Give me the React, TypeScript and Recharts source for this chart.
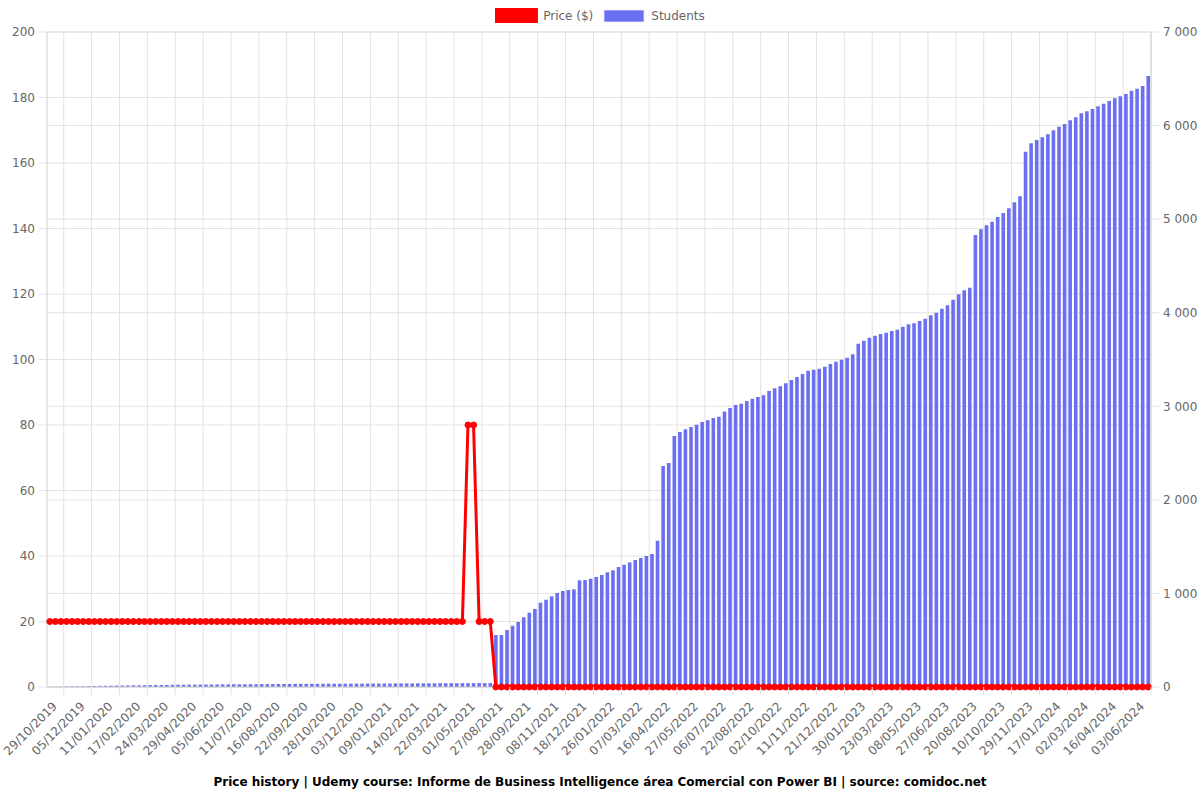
import React from 'react'
import {
    ComposedChart,
    Bar,
    Line,
    XAxis,
    YAxis,
    CartesianGrid,
} from 'recharts'

const tickLabels = [
    '29/10/2019', '05/12/2019', '11/01/2020', '17/02/2020', '24/03/2020',
    '29/04/2020', '05/06/2020', '11/07/2020', '16/08/2020', '22/09/2020',
    '28/10/2020', '03/12/2020', '09/01/2021', '14/02/2021', '22/03/2021',
    '01/05/2021', '27/08/2021', '28/09/2021', '08/11/2021', '18/12/2021',
    '26/01/2022', '07/03/2022', '16/04/2022', '27/05/2022', '06/07/2022',
    '22/08/2022', '02/10/2022', '11/11/2022', '21/12/2022', '30/01/2023',
    '23/03/2023', '08/05/2023', '27/06/2023', '20/08/2023', '10/10/2023',
    '29/11/2023', '17/01/2024', '02/03/2024', '16/04/2024', '03/06/2024',
]

// price in $, one value per snapshot
const prices = [
    20, 20, 20, 20, 20, 20, 20, 20, 20, 20,
    20, 20, 20, 20, 20, 20, 20, 20, 20, 20,
    20, 20, 20, 20, 20, 20, 20, 20, 20, 20,
    20, 20, 20, 20, 20, 20, 20, 20, 20, 20,
    20, 20, 20, 20, 20, 20, 20, 20, 20, 20,
    20, 20, 20, 20, 20, 20, 20, 20, 20, 20,
    20, 20, 20, 20, 20, 20, 20, 20, 20, 20,
    20, 20, 20, 20, 20, 80, 80, 20, 20, 20,
    0, 0, 0, 0, 0, 0, 0, 0, 0, 0,
    0, 0, 0, 0, 0, 0, 0, 0, 0, 0,
    0, 0, 0, 0, 0, 0, 0, 0, 0, 0,
    0, 0, 0, 0, 0, 0, 0, 0, 0, 0,
    0, 0, 0, 0, 0, 0, 0, 0, 0, 0,
    0, 0, 0, 0, 0, 0, 0, 0, 0, 0,
    0, 0, 0, 0, 0, 0, 0, 0, 0, 0,
    0, 0, 0, 0, 0, 0, 0, 0, 0, 0,
    0, 0, 0, 0, 0, 0, 0, 0, 0, 0,
    0, 0, 0, 0, 0, 0, 0, 0, 0, 0,
    0, 0, 0, 0, 0, 0, 0, 0, 0, 0,
    0, 0, 0, 0, 0, 0, 0, 0,
]

const students = [
    1, 2, 3, 5, 6, 7, 8, 10, 11, 12,
    13, 14, 15, 16, 17, 18, 18, 19, 20, 21,
    22, 22, 23, 24, 24, 25, 25, 26, 26, 27,
    27, 28, 28, 29, 29, 29, 30, 30, 31, 31,
    31, 32, 32, 32, 33, 33, 33, 34, 34, 34,
    35, 35, 35, 35, 36, 36, 36, 36, 37, 37,
    37, 37, 38, 38, 38, 38, 39, 39, 39, 39,
    40, 40, 40, 40, 41, 41, 41, 42, 42, 42,
    556, 556, 609, 655, 695, 745, 794, 834, 901, 933,
    969, 1005, 1026, 1037, 1044, 1140, 1143, 1157, 1176, 1197,
    1226, 1247, 1282, 1307, 1332, 1357, 1379, 1400, 1421, 1564,
    2362, 2394, 2682, 2725, 2754, 2779, 2803, 2832, 2852, 2875,
    2889, 2943, 2982, 3014, 3028, 3057, 3081, 3099, 3117, 3163,
    3192, 3213, 3245, 3281, 3313, 3345, 3380, 3391, 3402, 3423,
    3452, 3477, 3498, 3519, 3555, 3669, 3701, 3733, 3754, 3772,
    3786, 3805, 3819, 3851, 3876, 3887, 3911, 3936, 3972, 4000,
    4043, 4079, 4138, 4197, 4239, 4268, 4831, 4891, 4934, 4973,
    5023, 5066, 5116, 5180, 5244, 5721, 5811, 5846, 5875, 5907,
    5950, 5988, 6017, 6056, 6088, 6131, 6153, 6177, 6206, 6234,
    6263, 6291, 6313, 6337, 6373, 6394, 6423, 6530,
]

const priceTicks = [0, 20, 40, 60, 80, 100, 120, 140, 160, 180, 200]
const studentTicks = [0, 1000, 2000, 3000, 4000, 5000, 6000, 7000]

const data = students.map((s, i) => ({ idx: i, students: s, price: prices[i] }))

const RED = '#ff0000'
const BLUE = '#6b6ff1'
const GRID = '#e2e2e2'
const TEXT = '#666'

const spaced = (v: number) => String(v).replace(/\B(?=(\d{3})+(?!\d))/g, ' ')

const XTick = (props: any) => {
    const { x, y, payload } = props
    const label = tickLabels[payload.value / 5] ?? ''
    // grid lines sit halfway between labelled ticks, and poke below the axis
    const gap = (payload.offset || 0) * 5
    return (
        <g>
            <line x1={x + gap} x2={x + gap} y1={y - 11} y2={y - 3} stroke={GRID} />
            <g transform={`translate(${x + 5},${y + 6})`}>
                <text x={0} y={0} dy="0.35em" textAnchor="end" transform="rotate(-45)" fill={TEXT} fontSize={12}>
                    {label}
                </text>
            </g>
        </g>
    )
}

const Legend = () => (
    <div style={{
        position: 'absolute', top: 8, left: 0, width: 1200, display: 'flex',
        justifyContent: 'center', alignItems: 'center', fontSize: 12, color: TEXT,
    }}>
        <svg width={43} height={15}>
            <rect x={1.5} y={1.5} width={40} height={12} fill={RED} stroke={RED} strokeWidth={3} />
        </svg>
        <span style={{ marginLeft: 5 }}>Price ($)</span>
        <svg width={40} height={12} style={{ marginLeft: 11 }}>
            <rect x={0.5} y={0.5} width={39} height={11} fill={BLUE} stroke="#9a9df5" strokeWidth={1} />
        </svg>
        <span style={{ marginLeft: 7 }}>Students</span>
    </div>
)

const App = () => {
    const n = data.length
    return (
        <div style={{ position: 'absolute', left: 0, top: 0, width: 1200, height: 800, fontFamily: 'DejaVu Sans', background: '#fff' }}>
            <Legend />
            <ComposedChart
                width={1200}
                height={800}
                data={data}
                margin={{ top: 32, right: 0, bottom: 0, left: 0 }}
            >
                <CartesianGrid
                    horizontal={false}
                    stroke={GRID}
                    verticalCoordinatesGenerator={({ offset }: any) => {
                        const step = offset.width / n
                        return tickLabels.map((_, k) => offset.left + (5 * k + 3) * step)
                    }}
                />
                <CartesianGrid vertical={false} yAxisId="left" stroke={GRID} />
                <CartesianGrid vertical={false} yAxisId="right" stroke={GRID} />
                <XAxis
                    dataKey="idx"
                    type="category"
                    interval={4}
                    height={113}
                    tickSize={8}
                    tickMargin={3}
                    tickLine={false}
                    axisLine={{ stroke: '#d0d0d0' }}
                    tick={<XTick />}
                />
                <YAxis
                    yAxisId="left"
                    orientation="left"
                    width={47}
                    domain={[0, 200]}
                    ticks={priceTicks}
                    tickSize={8}
                    tickMargin={4}
                    tickLine={{ stroke: GRID }}
                    axisLine={{ stroke: '#d0d0d0' }}
                    tick={{ fill: TEXT, fontSize: 12 }}
                />
                <YAxis
                    yAxisId="right"
                    orientation="right"
                    width={49}
                    domain={[0, 7000]}
                    ticks={studentTicks}
                    tickSize={8}
                    tickMargin={4}
                    tickLine={{ stroke: GRID }}
                    axisLine={{ stroke: '#d0d0d0' }}
                    tick={{ fill: TEXT, fontSize: 12 }}
                    tickFormatter={spaced}
                />
                <Bar
                    yAxisId="right"
                    dataKey="students"
                    fill={BLUE}
                    barSize={3.6}
                    isAnimationActive={false}
                />
                <Line
                    yAxisId="left"
                    dataKey="price"
                    type="linear"
                    stroke={RED}
                    strokeWidth={3}
                    dot={{ r: 3, fill: RED, stroke: RED, strokeWidth: 1 }}
                    isAnimationActive={false}
                />
            </ComposedChart>
            <div style={{
                position: 'absolute', left: 0, top: 775, width: 1200, textAlign: 'center',
                fontSize: 12, fontWeight: 'bold', color: '#000',
            }}>
                Price history | Udemy course: Informe de Business Intelligence área Comercial con Power BI | source: comidoc.net
            </div>
        </div>
    )
}

export default App
